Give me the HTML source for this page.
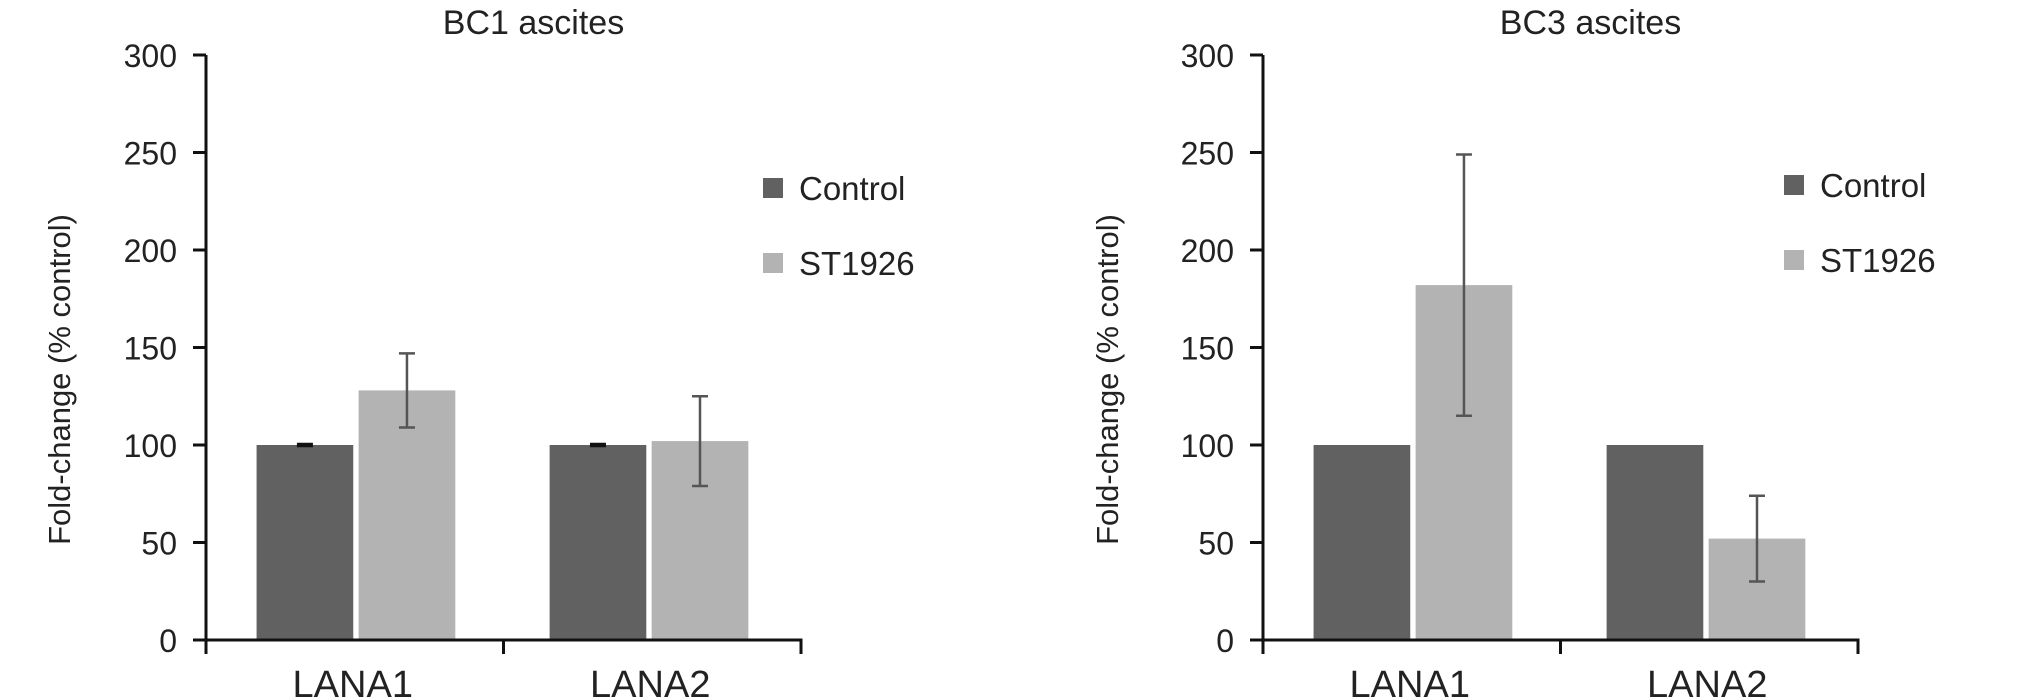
<!DOCTYPE html>
<html><head><meta charset="utf-8">
<style>
html,body{margin:0;padding:0;background:#fff;}
svg{display:block;}
text{font-family:"Liberation Sans",Arial,sans-serif;fill:#222;}
</style></head>
<body>
<svg id="chart" width="2031" height="700" viewBox="0 0 2031 700" xmlns="http://www.w3.org/2000/svg"></svg>
<script>
const categories = ["LANA1", "LANA2"];
const seriesNames = ["Control", "ST1926"];
const bc1Control = [100, 100];
const bc1ControlErr = [0.5, 0.5];
const bc1Treated = [128, 102];
const bc1TreatedErr = [19, 23];
const bc3Control = [100, 100];
const bc3ControlErr = [0, 0];
const bc3Treated = [182, 52];
const bc3TreatedErr = [67, 22];
const yTicks = [0, 50, 100, 150, 200, 250, 300];
const titles = ["BC1 ascites", "BC3 ascites"];

const NS = "http://www.w3.org/2000/svg";
const svg = document.getElementById("chart");
function mk(tag, attrs, parent) {
  const e = document.createElementNS(NS, tag);
  for (const k in attrs) e.setAttribute(k, attrs[k]);
  (parent || svg).appendChild(e);
  return e;
}
const colors = ["#616161", "#b3b3b3"];

function drawPanel(p) {
  const g = mk("g", {});
  
  
  const y0 = 640, y1 = 55, yMax = 300;
  const yScale = v => y0 - (v / yMax) * (y0 - y1);
  const x0 = p.ax, x1 = p.axEnd;
  const groupW = (x1 - x0) / categories.length;
  const barW = groupW * 0.325, gap = groupW * 0.018;
  const xBar = (ci, si) => x0 + groupW * ci + groupW * (ci === 0 ? 0.17 : 0.155) + si * (barW + gap);

  const t = mk("text", {x: (x0 + x1) / 2 + 30, y: 34, "font-size": 34, "text-anchor": "middle"}, g);
  t.textContent = p.title;
  
  

  const yl = mk("text", {x: 0, y: 0, "font-size": 31, "text-anchor": "middle",
    transform: `translate(${p.ylx},${(y0 + y1) / 2 + 32}) rotate(-90)`}, g);
  yl.textContent = "Fold-change (% control)";
  
  

  const series = [p.control, p.treated];
  const errs = [p.controlErr, p.treatedErr];
  series.forEach((vals, si) => {
    vals.forEach((v, ci) => {
      const x = xBar(ci, si);
      const r = mk("rect", {x: x, y: yScale(v), width: barW, height: y0 - yScale(v), fill: colors[si]}, g);
      
      
      const e = errs[si][ci];
      if (e > 0) {
        const cx = x + barW / 2;
        const col = si === 0 ? "#111" : "#555";
        const eb = mk("path", {d: `M${cx},${yScale(v + e)}V${yScale(v - e)}M${cx - 8},${yScale(v + e)}H${cx + 8}M${cx - 8},${yScale(v - e)}H${cx + 8}`,
          stroke: col, "stroke-width": 2.5, fill: "none"}, g);
        
        
      }
    });
  });

  const ax = mk("path", {d: `M${x0},${y1}V${y0 + 14}M${x0},${y0}H${x1}V${y0 + 14}M${(x0 + x1) / 2},${y0}V${y0 + 14}`,
    stroke: "#111", "stroke-width": 3, fill: "none"}, g);
  
  
  yTicks.forEach(v => {
    const tk = mk("line", {x1: x0 - 13, x2: x0, y1: yScale(v), y2: yScale(v), stroke: "#111", "stroke-width": 3}, g);
    
    
    const tl = mk("text", {x: x0 - 29, y: yScale(v) + 12, "font-size": 32, "text-anchor": "end"}, g);
    tl.textContent = v;
    
    
  });
  categories.forEach((c, ci) => {
    const xl = mk("text", {x: x0 + groupW * (ci + 0.5) - 2, y: 697, "font-size": 38, "text-anchor": "middle"}, g);
    xl.textContent = c;
    
    
  });

  seriesNames.forEach((s, si) => {
    const ly = p.legY + si * 75;
    const sq = mk("rect", {x: p.legX, y: ly - 10, width: 20, height: 20, fill: colors[si]}, g);
    
    
    const lt = mk("text", {x: p.legX + 36, y: ly + 12, "font-size": 33}, g);
    lt.textContent = s;
    
    
  });
}

drawPanel({id: "bc1", title: titles[0], ax: 206, axEnd: 801, ylx: 70, legX: 763, legY: 188,
  control: bc1Control, controlErr: bc1ControlErr, treated: bc1Treated, treatedErr: bc1TreatedErr});
drawPanel({id: "bc3", title: titles[1], ax: 1263, axEnd: 1858, ylx: 1118, legX: 1784, legY: 185,
  control: bc3Control, controlErr: bc3ControlErr, treated: bc3Treated, treatedErr: bc3TreatedErr});
</script>
</body></html>
